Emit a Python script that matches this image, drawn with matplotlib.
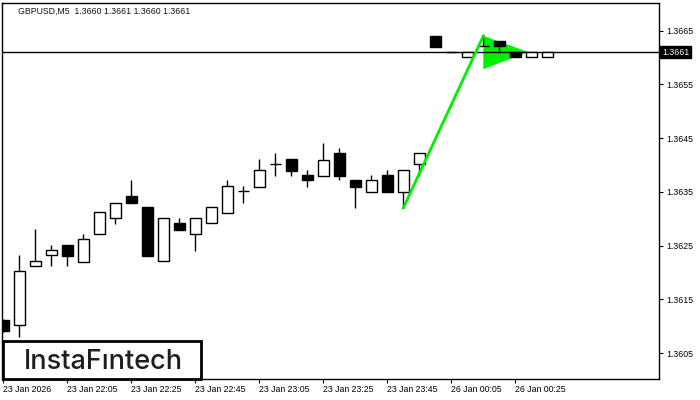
import matplotlib
matplotlib.use("Agg")
import matplotlib.pyplot as plt
import matplotlib.transforms as mtransforms
from matplotlib.patches import Rectangle

plt.rcParams['font.family'] = ['Liberation Sans', 'DejaVu Sans']

# GBPUSD M5 candles, 23 Jan 21:45 .. 26 Jan 00:30
opens = [1.36111, 1.36102, 1.36211, 1.36232, 1.36251, 1.36220, 1.36271, 1.36301, 1.36342,
         1.36322, 1.36221, 1.36291, 1.36271, 1.36291, 1.36311, 1.36351, 1.36359, 1.36401,
         1.36411, 1.36381, 1.36380, 1.36422, 1.36371, 1.36350, 1.36381, 1.36350, 1.36401,
         1.36640, 1.36610, 1.36600, 1.36621, 1.36630, 1.36610, 1.36600, 1.36600]
highs = [1.36113, 1.36232, 1.36281, 1.36251, 1.36251, 1.36271, 1.36312, 1.36330, 1.36372,
         1.36322, 1.36301, 1.36301, 1.36301, 1.36321, 1.36372, 1.36361, 1.36411, 1.36422,
         1.36411, 1.36390, 1.36440, 1.36431, 1.36371, 1.36381, 1.36390, 1.36390, 1.36422,
         1.36640, 1.36610, 1.36610, 1.36638, 1.36630, 1.36610, 1.36610, 1.36610]
lows = [1.36089, 1.36080, 1.36211, 1.36211, 1.36211, 1.36220, 1.36271, 1.36290, 1.36330,
        1.36231, 1.36221, 1.36279, 1.36240, 1.36291, 1.36311, 1.36330, 1.36359, 1.36380,
        1.36380, 1.36359, 1.36380, 1.36371, 1.36320, 1.36350, 1.36350, 1.36320, 1.36380,
        1.36619, 1.36610, 1.36600, 1.36621, 1.36609, 1.36600, 1.36600, 1.36600]
closes = [1.36091, 1.36203, 1.36221, 1.36241, 1.36231, 1.36262, 1.36312, 1.36330, 1.36330,
          1.36231, 1.36301, 1.36279, 1.36301, 1.36321, 1.36360, 1.36351, 1.36390, 1.36401,
          1.36389, 1.36371, 1.36410, 1.36380, 1.36359, 1.36371, 1.36350, 1.36390, 1.36422,
          1.36619, 1.36610, 1.36610, 1.36621, 1.36621, 1.36600, 1.36610, 1.36610]

time_labels = ["23 Jan 2026", "23 Jan 22:05", "23 Jan 22:25", "23 Jan 22:45", "23 Jan 23:05",
               "23 Jan 23:25", "23 Jan 23:45", "26 Jan 00:05", "26 Jan 00:25"]
price_ticks = [1.3605, 1.3615, 1.3625, 1.3635, 1.3645, 1.3655, 1.3665]
last_price = 1.3661

# bullish pennant: pole and flag
pole_x = [25, 30]
pole_y = [1.36320, 1.36640]
flag_x = [30, 30, 32.8]
flag_y = [1.36640, 1.36578, 1.36610]

fig = plt.figure(figsize=(7, 4), dpi=100)
ax = fig.add_axes([0.00357, 0.05375, 0.93857, 0.94])
ax.set_xlim(-0.05, 41.01)
ax.set_ylim(1.360026, 1.367021)

green = '#00ee00'
ax.fill(flag_x, flag_y, color=green, zorder=1, linewidth=0)
ax.plot(pole_x, pole_y, color=green, linewidth=2, zorder=5)

ax.axhline(last_price, color='black', linewidth=1, zorder=2)

idx = list(range(len(opens)))
ax.vlines(idx, lows, highs, color='black', linewidth=1, zorder=3)
bottoms = [min(o, c) for o, c in zip(opens, closes)]
heights = [abs(c - o) for o, c in zip(opens, closes)]
fills = ['white' if c >= o else 'black' for o, c in zip(opens, closes)]
ax.bar(idx, heights, bottom=bottoms, width=0.66, color=fills, edgecolor='black',
       linewidth=1, zorder=4)

# axes styling
for s in ax.spines.values():
    s.set_color('black')
    s.set_linewidth(1)
ax.set_xticks(list(range(0, 4 * len(time_labels), 4)))
ax.set_xticklabels(time_labels, ha='left')
ax.set_yticks(price_ticks)
ax.set_yticklabels(["%.4f" % p for p in price_ticks])
ax.yaxis.tick_right()
ax.tick_params(axis='x', length=3, pad=2, labelsize=6.3, direction='out')
ax.tick_params(axis='y', length=3, pad=2, labelsize=6.3, direction='out')

trans = mtransforms.blended_transform_factory(ax.transAxes, ax.transData)
ax.text(1.004, last_price, "%.4f" % last_price, transform=trans, ha='left', va='center',
        color='white', fontsize=6.3, clip_on=False,
        bbox=dict(facecolor='black', edgecolor='black', pad=1.2))

ax.text(0.0236, 0.977, "GBPUSD,M5  1.3660 1.3661 1.3660 1.3661", transform=ax.transAxes,
        ha='left', va='center', fontsize=6.3, color='#111111')

# logo box
ax.add_patch(Rectangle((0.001, 0.0), 0.301, 0.1005, transform=ax.transAxes,
                       facecolor='white', edgecolor='black', linewidth=2, zorder=10,
                       clip_on=False))
ax.text(0.1535, 0.025, "InstaF\u0131ntech", transform=ax.transAxes, ha='center',
        va='baseline', fontsize=19.5, color='#1e1e1e', family=['Inter', 'DejaVu Sans'],
        weight='medium', zorder=11)

fig.savefig("out.png", dpi=100, facecolor='white')
